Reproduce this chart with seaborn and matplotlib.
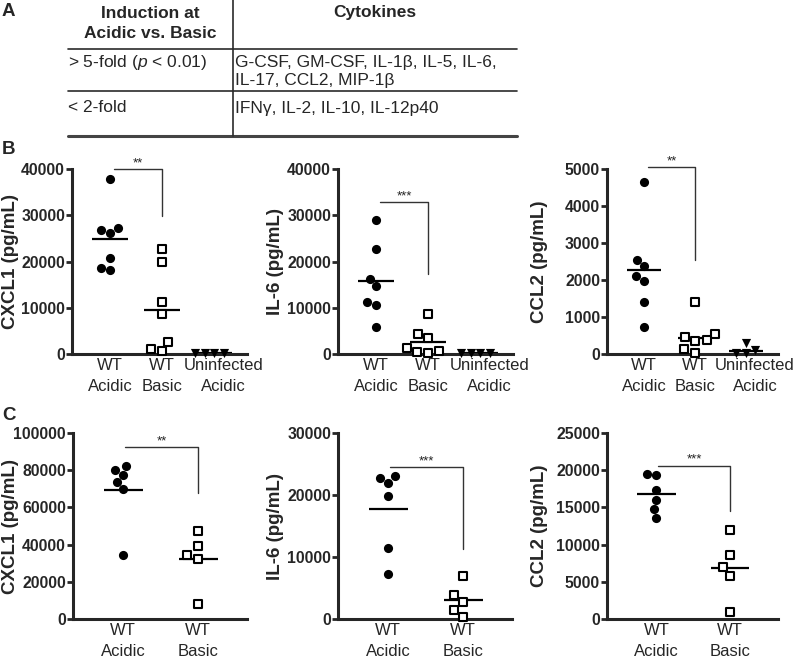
import numpy as np
import matplotlib
matplotlib.use("Agg")
import matplotlib.pyplot as plt
import matplotlib.ticker as mticker
import matplotlib.transforms as mtransforms
import seaborn as sns

# ---------------- data ----------------
# Panel A table
table_header = ["Induction at\nAcidic vs. Basic", "Cytokines"]
table_col1 = ["> 5-fold ($\\mathit{p}$ < 0.01)", "< 2-fold"]
table_col2 = ["G-CSF, GM-CSF, IL-1β, IL-5, IL-6,\nIL-17, CCL2, MIP-1β",
              "IFNγ, IL-2, IL-10, IL-12p40"]

# Panel B
b_groups = ["WT\nAcidic", "WT\nBasic", "Uninfected\nAcidic"]
b_cxcl1_acidic = [37800, 27200, 26100, 26900, 20800, 18100, 18600]
b_cxcl1_basic = [22600, 19900, 11200, 8600, 2700, 700, 1100]
b_cxcl1_uninf = [200, 200, 200, 200]
b_cxcl1_means = [24900, 9500, 200]

b_il6_acidic = [29000, 22800, 16200, 14600, 11200, 10600, 5900]
b_il6_basic = [8600, 4400, 3400, 700, 150, 350, 1200]
b_il6_uninf = [200, 200, 200, 200]
b_il6_means = [15700, 2600, 200]

b_ccl2_acidic = [4660, 2540, 2380, 2110, 1980, 1400, 730]
b_ccl2_basic = [1400, 530, 470, 370, 350, 130, 20]
b_ccl2_uninf = [120, 40, 40, 290]
b_ccl2_means = [2260, 420, 80]

# Panel C
c_groups = ["WT\nAcidic", "WT\nBasic"]
c_cxcl1_acidic = [82100, 77400, 80100, 73700, 70100, 34200]
c_cxcl1_basic = [47100, 39400, 34200, 32300, 8200]
c_cxcl1_means = [69600, 32300]

c_il6_acidic = [22700, 23000, 21900, 19900, 11500, 7300]
c_il6_basic = [7000, 3800, 2700, 1400, 400]
c_il6_means = [17800, 3100]

c_ccl2_acidic = [19300, 19500, 17400, 16000, 14800, 13600]
c_ccl2_basic = [11900, 8600, 7000, 5800, 900]
c_ccl2_means = [16800, 6800]

# y labels, axis tops, tick steps
ylabels = ["CXCL1 (pg/mL)", "IL-6 (pg/mL)", "CCL2 (pg/mL)"]
b_ymax = [40000, 40000, 5000]
b_ystep = [10000, 10000, 1000]
c_ymax = [100000, 30000, 25000]
c_ystep = [20000, 10000, 5000]

# significance brackets: (top value, drop value, stars)
b_sig_top = [40000, 32800, 5050]
b_sig_drop = [29800, 17400, 2530]
b_sig_text = ["**", "***", "**"]
c_sig_top = [92500, 24500, 20600]
c_sig_drop = [67700, 11300, 14500]
c_sig_text = ["**", "***", "***"]

# ---------------- style ----------------
sns.set_style("ticks")
plt.rcParams["font.family"] = ["Liberation Sans", "DejaVu Sans"]
plt.rcParams["mathtext.fontset"] = "custom"
plt.rcParams["mathtext.rm"] = "Liberation Sans"
plt.rcParams["mathtext.it"] = "Liberation Sans:italic"

W, H = 800, 658
fig = plt.figure(figsize=(8, 6.58), dpi=100)

# overlay in pixel coordinates for panel A and panel letters
ov = fig.add_axes([0, 0, 1, 1], zorder=-5)
ov.set_xlim(0, W)
ov.set_ylim(H, 0)
ov.axis("off")

for letter, yy in zip(["A", "B", "C"], [12, 150, 415]):
    ov.text(2, yy, letter, fontsize=13.5, fontweight="bold", va="center", ha="left")

tx0, tx1, tx2 = 68, 233, 517
line_c = "#2a2a2a"
ov.plot([tx0, tx2], [49, 49], color=line_c, lw=1.2)
ov.plot([tx0, tx2], [91, 91], color=line_c, lw=1.2)
ov.plot([tx0, tx2], [136, 136], color="#444444", lw=2.2)
ov.plot([tx1, tx1], [0, 136], color=line_c, lw=1.2)

fs_t = 12.5
for k, line in enumerate(table_header[0].split("\n")):
    ov.text((tx0 + tx1) / 2, 13 + 20 * k, line, fontsize=fs_t, fontweight="bold",
            ha="center", va="center")
ov.text((tx1 + tx2) / 2, 13, table_header[1], fontsize=fs_t, fontweight="bold",
        ha="center", va="center")
row_y = [63, 108]
for r in range(2):
    ov.text(tx0, row_y[r], table_col1[r], fontsize=fs_t, ha="left", va="center")
    for k, line in enumerate(table_col2[r].split("\n")):
        ov.text(tx1 + 2, row_y[r] + 18 * k, line, fontsize=fs_t, ha="left", va="center")


def make_ax(left_px, right_px, top_px, bottom_px):
    return fig.add_axes([left_px / W, 1 - bottom_px / H,
                         (right_px - left_px) / W, (bottom_px - top_px) / H])


def draw_panel(ax, groups, series, markers, means, ylabel, ymax, ystep,
               sig_top, sig_drop, sig_text, xlim, half, x_left, lab_x):
    for gi, (vals, mk) in enumerate(zip(series, markers)):
        lab = [groups[gi]] * len(vals)
        if mk == "s":
            sns.swarmplot(x=lab, y=vals, order=groups, ax=ax, marker="s", size=6.4,
                          color="white", edgecolor="black", linewidth=1.5)
        else:
            sns.swarmplot(x=lab, y=vals, order=groups, ax=ax, marker=mk, size=6.6,
                          color="black", edgecolor="black", linewidth=0)
    for coll in ax.collections:
        coll.set_clip_on(False)
        coll.set_zorder(3)
    pos = np.arange(len(means))
    ax.hlines(means, pos - half, pos + half, color="black", lw=1.6, zorder=2)
    # bracket
    ax.plot([x_left, 1, 1], [sig_top, sig_top, sig_drop], color="#333333",
            lw=1.0, clip_on=False, zorder=2)
    ax.text((x_left + 1) / 2, sig_top, sig_text, ha="center", va="bottom",
            fontsize=9.5, color="#222222")
    ax.set_xlim(*xlim)
    ax.set_ylim(0, ymax)
    ax.set_yticks(np.arange(0, ymax + 1, ystep))
    ax.yaxis.set_major_formatter(mticker.FormatStrFormatter("%d"))
    ax.set_ylabel(ylabel, fontsize=13.5, fontweight="bold")
    ax.yaxis.label.set_va("center")
    ax.yaxis.set_label_coords(lab_x, 0.5)
    ax.set_xlabel("")
    sns.despine(ax=ax)
    for sp in ["left", "bottom"]:
        ax.spines[sp].set_linewidth(2.2)
    ax.tick_params(axis="y", length=4.5, width=2, pad=0.5, labelsize=11.3)
    for t in ax.get_yticklabels():
        t.set_fontweight("bold")
    ax.tick_params(axis="x", length=0, pad=3, labelsize=12)
    xt = ax.get_xticklabels()
    for t in xt:
        t.set_linespacing(1.45)
    if len(xt) == 3:
        shift = mtransforms.ScaledTranslation(9 / 100, 0, fig.dpi_scale_trans)
        xt[2].set_transform(xt[2].get_transform() + shift)


# Panel B
b_series = [
    [b_cxcl1_acidic, b_cxcl1_basic, b_cxcl1_uninf],
    [b_il6_acidic, b_il6_basic, b_il6_uninf],
    [b_ccl2_acidic, b_ccl2_basic, b_ccl2_uninf],
]
b_means = [b_cxcl1_means, b_il6_means, b_ccl2_means]
b_lr = [(72, 247), (338, 513), (607, 778)]
b_labpx = [10, 276, 539]
for i in range(3):
    ax = make_ax(b_lr[i][0], b_lr[i][1], 169, 354)
    lab_x = (b_labpx[i] - b_lr[i][0]) / (b_lr[i][1] - b_lr[i][0])
    draw_panel(ax, b_groups, b_series[i], ["o", "s", "v"], b_means[i], ylabels[i],
               b_ymax[i], b_ystep[i], b_sig_top[i], b_sig_drop[i], b_sig_text[i],
               (-0.73, 2.63), 0.34, 0.08, lab_x)

# Panel C
c_series = [
    [c_cxcl1_acidic, c_cxcl1_basic],
    [c_il6_acidic, c_il6_basic],
    [c_ccl2_acidic, c_ccl2_basic],
]
c_means = [c_cxcl1_means, c_il6_means, c_ccl2_means]
c_lr = [(73, 247), (338, 512), (607, 778)]
c_labpx = [10, 276, 539]
for i in range(3):
    ax = make_ax(c_lr[i][0], c_lr[i][1], 433, 619)
    lab_x = (c_labpx[i] - c_lr[i][0]) / (c_lr[i][1] - c_lr[i][0])
    draw_panel(ax, c_groups, c_series[i], ["o", "s"], c_means[i], ylabels[i],
               c_ymax[i], c_ystep[i], c_sig_top[i], c_sig_drop[i], c_sig_text[i],
               (-0.67, 1.65), 0.26, 0.02, lab_x)

fig.savefig("out.png", dpi=100)
